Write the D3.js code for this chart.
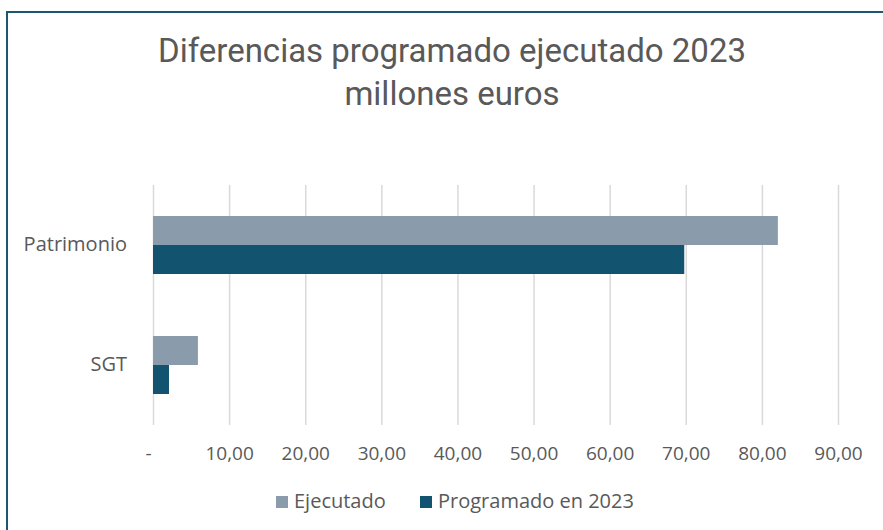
<!DOCTYPE html>
<html>
<head>
<meta charset="utf-8">
<script src="https://cdn.jsdelivr.net/npm/d3@7"></script>
<style>
  html, body { margin: 0; padding: 0; background: #fff; overflow: hidden; }
  svg { display: block; }
</style>
</head>
<body>
<script>
var width = 883
var height = 530

// data
const categories = ["Patrimonio", "SGT"];
const seriesNames = ["Ejecutado", "Programado en 2023"];
const ejecutado = [82.1, 5.9];
const programado = [69.8, 2.1];
const ticks = [0, 10, 20, 30, 40, 50, 60, 70, 80, 90];
const colors = ["#8A9BAB", "#12536F"];

const svg = d3.select("body").append("svg")
    .attr("width", width)
    .attr("height", height)
    .attr("font-family", "'Open Sans', 'Liberation Sans', sans-serif")

// border
svg.append("path")
    .attr("d", `M7,${height} L7,12 L${width},12`)
    .attr("fill", "none")
    .attr("stroke", "#1B5672")
    .attr("stroke-width", 2)

const margin = {top: 185, right: 45, bottom: 105, left: 153}
const innerWidth = 838 - margin.left;
const innerHeight = 425 - margin.top;

const xScale = d3.scaleLinear()
    .domain([0, 90])
    .range([0, innerWidth]);

const yScale = d3.scaleBand()
    .domain(categories)
    .range([0, innerHeight]);

const inner = d3.scaleBand()
    .domain(seriesNames)
    .range([0, 58]);

const g = svg.append("g")
    .attr("transform", `translate(${margin.left}, ${margin.top})`)

const fmt = d => d === 0 ? "-" : d3.format(".2f")(d).replace(".", ",");

const xAxis = d3.axisBottom(xScale)
    .tickValues(ticks)
    .tickSize(innerHeight)
    .tickFormat(fmt);

const xAxisG = g.append("g").call(xAxis)
    .attr("font-family", null)
    .attr("font-size", 19);
xAxisG.select(".domain").remove();
xAxisG.selectAll("line").attr("stroke", "#D9D9D9").attr("stroke-width", 1.5);
xAxisG.selectAll("text")
    .attr("y", innerHeight + 35)
    .attr("dy", null)
    .attr("fill", "#595959");
xAxisG.selectAll(".tick").filter(d => d === 0).select("text").attr("dx", -5);

const yAxis = d3.axisLeft(yScale).tickSize(0).tickPadding(26);
const yAxisG = g.append("g").call(yAxis)
    .attr("font-family", null)
    .attr("font-size", 20);
yAxisG.select(".domain").remove();
yAxisG.selectAll("text").attr("fill", "#595959");

const rows = categories.map((c, i) => ({cat: c, values: [ejecutado[i], programado[i]]}));

const groups = g.selectAll(".grp").data(rows)
    .enter().append("g")
    .attr("transform", d => `translate(0, ${yScale(d.cat) + yScale.bandwidth() / 2 - 29})`);

groups.selectAll("rect").data(d => d.values.map((v, j) => ({name: seriesNames[j], v: v, j: j})))
    .enter().append("rect")
    .attr("x", 0)
    .attr("y", d => inner(d.name))
    .attr("width", d => xScale(d.v))
    .attr("height", inner.bandwidth())
    .attr("fill", d => colors[d.j]);

// title
const title = svg.append("text")
    .attr("text-anchor", "middle")
    .attr("font-family", "Roboto, sans-serif")
    .attr("font-size", 33)
    .attr("fill", "#595959");
title.append("tspan").attr("x", 452).attr("y", 62).text("Diferencias programado ejecutado 2023");
title.append("tspan").attr("x", 452).attr("y", 105).text("millones euros");

// legend
const legendX = [276, 420];
const legend = svg.selectAll(".legend").data(seriesNames)
    .enter().append("g")
    .attr("transform", (d, i) => `translate(${legendX[i]}, 496)`);
legend.append("rect")
    .attr("width", 12).attr("height", 12)
    .attr("fill", (d, i) => colors[i]);
legend.append("text")
    .attr("x", 18).attr("y", 12)
    .attr("font-size", 20)
    .attr("fill", "#595959")
    .text(d => d);
</script>
</body>
</html>
